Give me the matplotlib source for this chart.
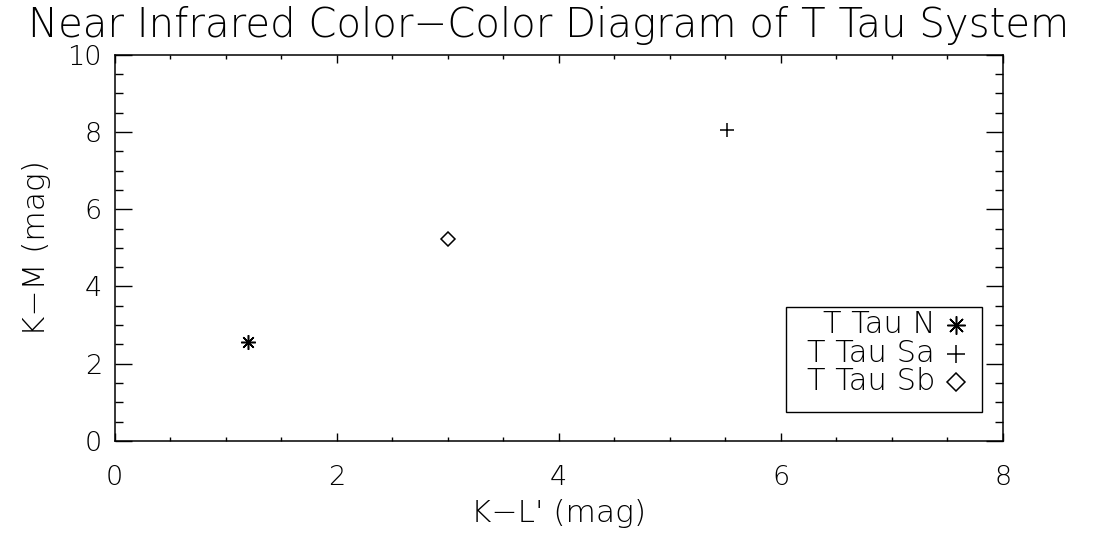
import matplotlib
matplotlib.use("Agg")
import matplotlib.pyplot as plt
from matplotlib.patches import Rectangle
from matplotlib.ticker import MultipleLocator

# colours K-L' and K-M for the three components
names = ["T Tau N", "T Tau Sa", "T Tau Sb"]
k_l = [1.20, 5.52, 3.00]
k_m = [2.55, 8.06, 5.23]
markers = [(8, 2, 0), "+", "D"]
msizes = [10.5, 10.5, 7.5]

plt.rcParams["font.family"] = ["DejaVu Sans"]
plt.rcParams["font.weight"] = 200
plt.rcParams["axes.labelweight"] = 200

fig = plt.figure(figsize=(10.98, 5.35), dpi=100)
ax = fig.add_axes([0.1043, 0.1757, 0.8089, 0.7221])

for x, y, m, s in zip(k_l, k_m, markers, msizes):
    ax.plot(x, y, linestyle="none", marker=m, ms=s, mfc="none",
            mec="black", mew=1.1, color="black")

ax.set_xlim(0, 8)
ax.set_ylim(0, 10)
ax.xaxis.set_major_locator(MultipleLocator(2))
ax.xaxis.set_minor_locator(MultipleLocator(0.5))
ax.yaxis.set_major_locator(MultipleLocator(2))
ax.yaxis.set_minor_locator(MultipleLocator(0.5))

ax.tick_params(which="both", direction="in", top=True, right=True, width=1.0,
               labelsize=19.5, colors="black")
ax.tick_params(axis="x", which="major", length=5.8, pad=17)
ax.tick_params(axis="x", which="minor", length=2.9)
ax.tick_params(axis="y", which="major", length=12.2, pad=9)
ax.tick_params(axis="y", which="minor", length=5.8)
for sp in ax.spines.values():
    sp.set_linewidth(1.1)

ax.set_xlabel("K\u2212L' (mag)", fontsize=22.5, labelpad=7, fontweight=200)
ax.set_ylabel("K\u2212M (mag)", fontsize=22.5, labelpad=12, fontweight=200)
fig.text(0.5, 0.931, "Near Infrared Color\u2212Color Diagram of T Tau System",
         ha="center", va="baseline", fontsize=29, fontweight=200)

# legend box, labels to the left of their symbols
ax.add_patch(Rectangle((0.756, 0.075), 0.221, 0.271, transform=ax.transAxes,
                       fill=False, edgecolor="black", lw=1.0))
rows_y = [0.301, 0.226, 0.153]
for name, m, s, yy in zip(names, markers, msizes, rows_y):
    ax.text(0.924, yy, name, transform=ax.transAxes, ha="right", va="center",
            fontsize=22, fontweight=200)
    ax.plot(0.947, yy, transform=ax.transAxes, linestyle="none", marker=m,
            ms=s * 1.25, mfc="none", mec="black", mew=1.1)

fig.savefig("out.png", dpi=100)
